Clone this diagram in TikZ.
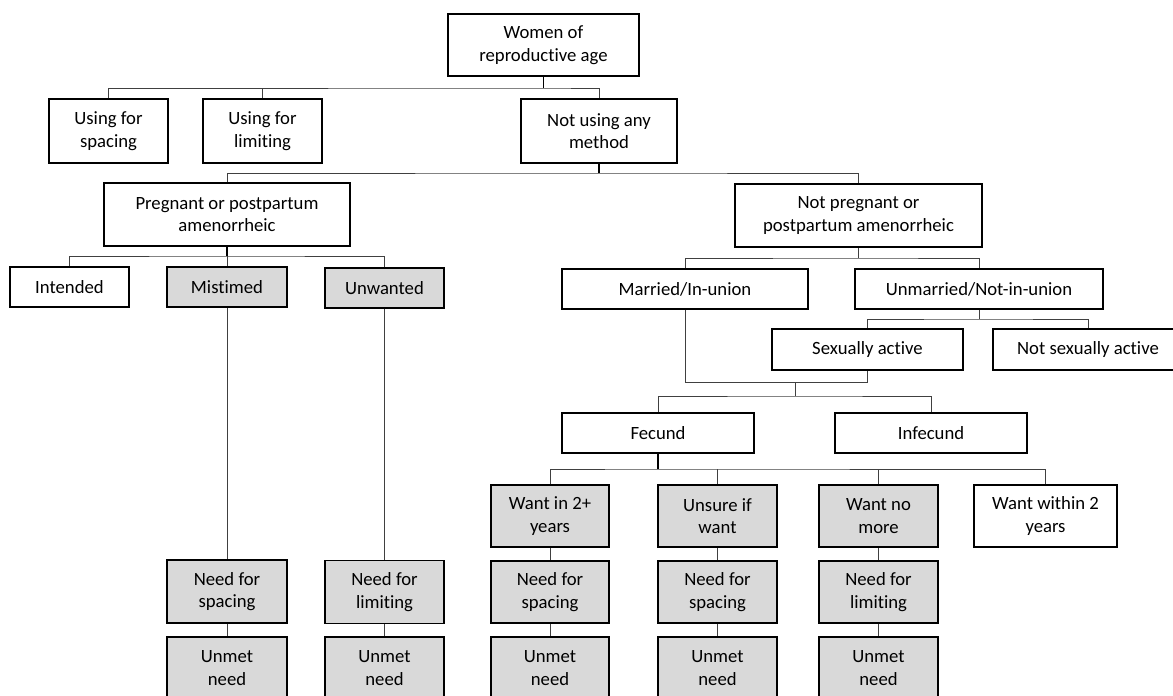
\documentclass[tikz,border=0pt]{standalone}
\usepackage{fontspec}
\setmainfont{Carlito}[Ligatures=NoCommon]
\definecolor{boxgray}{HTML}{D9D9D9}
\definecolor{conncol}{HTML}{404040}
\tikzset{
  box/.style={draw=black, line width=1.6pt, fill=white, align=center, inner sep=0pt,
    font=\fontsize{18.7}{22.5}\selectfont},
  gbox/.style={box, fill=boxgray},
  conn/.style={draw=conncol, line width=1pt},
  stem/.style={draw=black, line width=1.6pt},
}
\newcommand{\bx}[6]{\node[#1, minimum width=#4pt, minimum height=#5pt] (#2) at (#3) {#6};}
\begin{document}
\begin{tikzpicture}[x=1pt,y=-1pt]
\useasboundingbox (0,0) rectangle (1173,696);
\clip (0,0) rectangle (1173,696);
% row 1-2
\bx{box}{women}{543.5,45}{191}{62}{Women of\\reproductive age}
\bx{box}{usp}{108.5,131}{119}{64}{Using for\\spacing}
\bx{box}{ulim}{262.5,131}{119}{64}{Using for\\limiting}
\bx{box}{notusing}{599,131}{156}{64}{Not using any\\method}
% row 3
\bx{box}{preg}{227,214.5}{246}{63}{Pregnant or postpartum\\amenorrheic}
\bx{box}{notpreg}{858.5,215.5}{247}{63}{Not pregnant or\\postpartum amenorrheic}
% left branch
\bx{box}{intended}{69.5,287}{119}{40}{Intended}
\bx{gbox}{mistimed}{227,287}{120}{40}{Mistimed}
\bx{gbox}{unwanted}{384.5,288}{119}{40}{Unwanted}
\bx{gbox}{needA}{227,591.5}{120}{63}{Need for\\spacing}
\bx{gbox}{needB}{384.5,592}{119}{63}{Need for\\limiting}
\bx{gbox}{unmetA}{227,668}{120}{62}{Unmet\\need}
\bx{gbox}{unmetB}{384.5,668}{119}{62}{Unmet\\need}
% right branch
\bx{box}{married}{685,289}{246}{40}{Married/In-union}
\bx{box}{unmarried}{979,289}{248}{40}{Unmarried/Not-in-union}
\bx{box}{sexact}{867.5,349.5}{191}{41}{Sexually active}
\bx{box}{notsex}{1088,349.5}{190}{41}{Not sexually active}
\bx{box}{fecund}{658,433}{192}{40}{Fecund}
\bx{box}{infecund}{931,433}{192}{40}{Infecund}
\bx{gbox}{want2}{550,516}{118}{62}{Want in 2+\\years}
\bx{gbox}{unsure}{717.5,516}{119}{62}{Unsure if\\want}
\bx{gbox}{wantno}{878.5,516}{119}{62}{Want no\\more}
\bx{box}{within}{1045.5,516}{143}{62}{Want within 2\\years}
\bx{gbox}{needC}{550,592}{118}{62}{Need for\\spacing}
\bx{gbox}{needD}{717.5,592}{119}{62}{Need for\\spacing}
\bx{gbox}{needE}{878.5,592}{119}{62}{Need for\\limiting}
\bx{gbox}{unmetC}{550,668}{118}{62}{Unmet\\need}
\bx{gbox}{unmetD}{717.5,668}{119}{62}{Unmet\\need}
\bx{gbox}{unmetE}{878.5,668}{119}{62}{Unmet\\need}
% bus coordinates
\coordinate (b1) at (543.5,88);
\coordinate (b2) at (599,173);
\coordinate (b3) at (227,256);
\coordinate (b4) at (858.5,258);
\coordinate (b5) at (979,319);
\coordinate (m1) at (685,382);
\coordinate (m2) at (795,382);
\coordinate (b6) at (795,396);
\coordinate (b7) at (658,469);
% connectors
\draw[stem] (women.south) -- (b1);
\draw[conn] (usp.north) |- (b1) -| (notusing.north);
\draw[conn] (ulim.north) -- (ulim.north |- b1);
\draw[stem] (notusing.south) -- (b2);
\draw[conn] (preg.north) |- (b2) -| (notpreg.north);
\draw[stem] (preg.south) -- (b3);
\draw[conn] (intended.north) |- (b3) -| (unwanted.north);
\draw[conn] (mistimed.north) -- (b3);
\draw[conn] (mistimed.south) -- (needA.north);
\draw[conn] (unwanted.south) -- (needB.north);
\draw[conn] (needA.south) -- (unmetA.north);
\draw[conn] (needB.south) -- (unmetB.north);
\draw[conn] (notpreg.south) -- (b4);
\draw[conn] (married.north) |- (b4) -| (unmarried.north);
\draw[conn] (unmarried.south) -- (b5);
\draw[conn] (sexact.north) |- (b5) -| (notsex.north);
\draw[conn] (married.south) -- (m1) -| (sexact.south);
\draw[conn] (m2) -- (b6);
\draw[conn] (fecund.north) |- (b6) -| (infecund.north);
\draw[stem] (fecund.south) -- (b7);
\draw[conn] (want2.north) |- (b7) -| (within.north);
\draw[conn] (unsure.north) -- (unsure.north |- b7);
\draw[conn] (wantno.north) -- (wantno.north |- b7);
\draw[conn] (want2.south) -- (needC.north);
\draw[conn] (unsure.south) -- (needD.north);
\draw[conn] (wantno.south) -- (needE.north);
\draw[conn] (needC.south) -- (unmetC.north);
\draw[conn] (needD.south) -- (unmetD.north);
\draw[conn] (needE.south) -- (unmetE.north);
\end{tikzpicture}
\end{document}
